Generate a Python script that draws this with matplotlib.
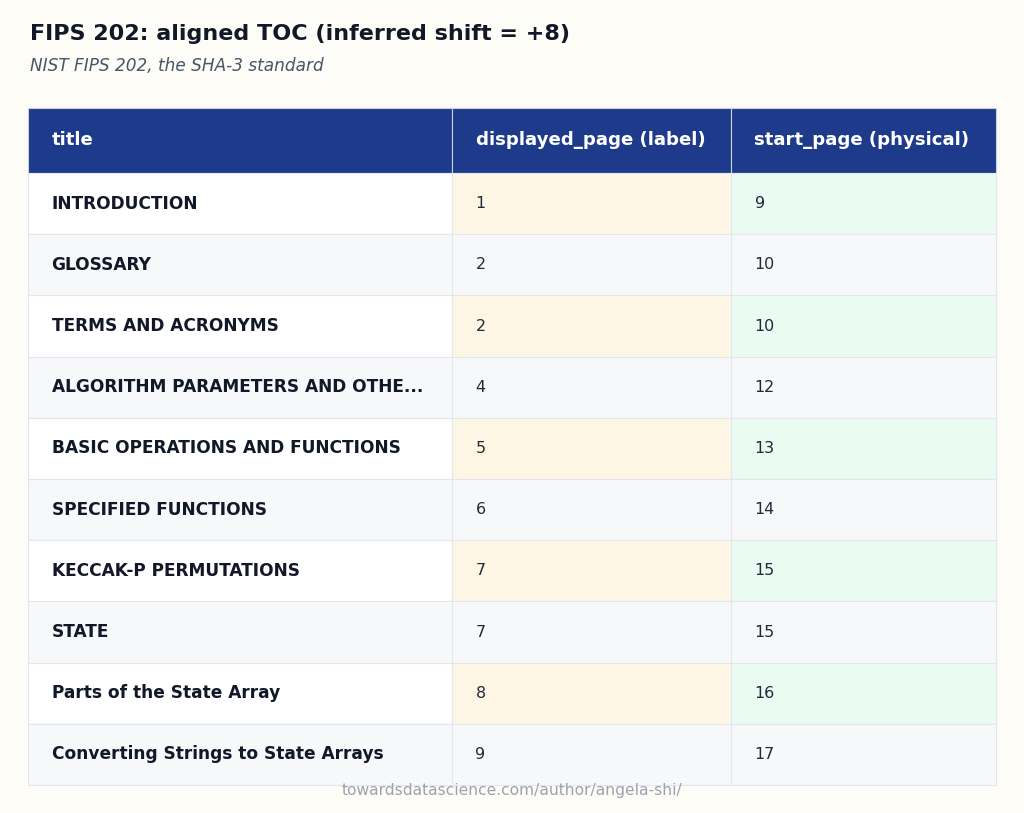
import matplotlib.pyplot as plt
from matplotlib.patches import Rectangle

# data
columns = ["title", "displayed_page (label)", "start_page (physical)"]
titles = ["INTRODUCTION", "GLOSSARY", "TERMS AND ACRONYMS",
          "ALGORITHM PARAMETERS AND OTHE...", "BASIC OPERATIONS AND FUNCTIONS",
          "SPECIFIED FUNCTIONS", "KECCAK-P PERMUTATIONS", "STATE",
          "Parts of the State Array", "Converting Strings to State Arrays"]
displayed_page = [1, 2, 2, 4, 5, 6, 7, 7, 8, 9]
start_page = [9, 10, 10, 12, 13, 14, 15, 15, 16, 17]

# colours
BG = "#FDFCF6"
HEAD = "#1E3A8A"
GRID = "#E3E6EC"
ROW_ODD = "#FFFFFF"
ROW_EVEN = "#F7F8FA"
HL_DISP = "#FEF6E4"
HL_START = "#EAFBF2"
TXT = "#111827"

plt.rcParams['font.family'] = ['DejaVu Sans']

fig = plt.figure(figsize=(10.24, 8.13), dpi=100, facecolor=BG)
ax = fig.add_axes([0, 0, 1, 1])
ax.set_xlim(0, 1024)
ax.set_ylim(813, 0)
ax.axis('off')

# layout (pixels)
col_x = [28, 452, 731, 996]
head_top, head_h, row_h = 108, 65, 61.2
pad = 23.5

fig.text(30/1024, 1 - 34/813, "FIPS 202: aligned TOC (inferred shift = +8)",
         fontsize=16, fontweight='bold', color=TXT, va='center')
fig.text(30/1024, 1 - 66/813, "NIST FIPS 202, the SHA-3 standard",
         fontsize=12.2, style='italic', color="#475569", va='center')

# header
for j, name in enumerate(columns):
    ax.add_patch(Rectangle((col_x[j], head_top), col_x[j+1] - col_x[j], head_h,
                           facecolor=HEAD, edgecolor="#C7D0E6", lw=0.8))
    ax.text(col_x[j] + pad, head_top + head_h/2 - 0.5, name, color='white',
            fontsize=13.1, fontweight='bold', va='center')

# body
for i, t in enumerate(titles):
    y0 = head_top + head_h + i*row_h
    base = ROW_ODD if i % 2 == 0 else ROW_EVEN
    fills = [base,
             HL_DISP if i % 2 == 0 else base,
             HL_START if i % 2 == 0 else base]
    vals = [t, str(displayed_page[i]), str(start_page[i])]
    for j in range(3):
        ax.add_patch(Rectangle((col_x[j], y0), col_x[j+1] - col_x[j], row_h,
                               facecolor=fills[j], edgecolor=GRID, lw=0.8))
        ax.text(col_x[j] + pad, y0 + row_h/2, vals[j],
                color=TXT if j == 0 else "#1F2937",
                fontsize=12.25 if j == 0 else 11.4,
                fontweight='bold' if j == 0 else 'normal', va='center')

fig.text(0.5, 1 - 790/813, "towardsdatascience.com/author/angela-shi/",
         fontsize=11.2, color="#9CA3AF", ha='center', va='center')

fig.savefig("out.png", dpi=100, facecolor=BG)
